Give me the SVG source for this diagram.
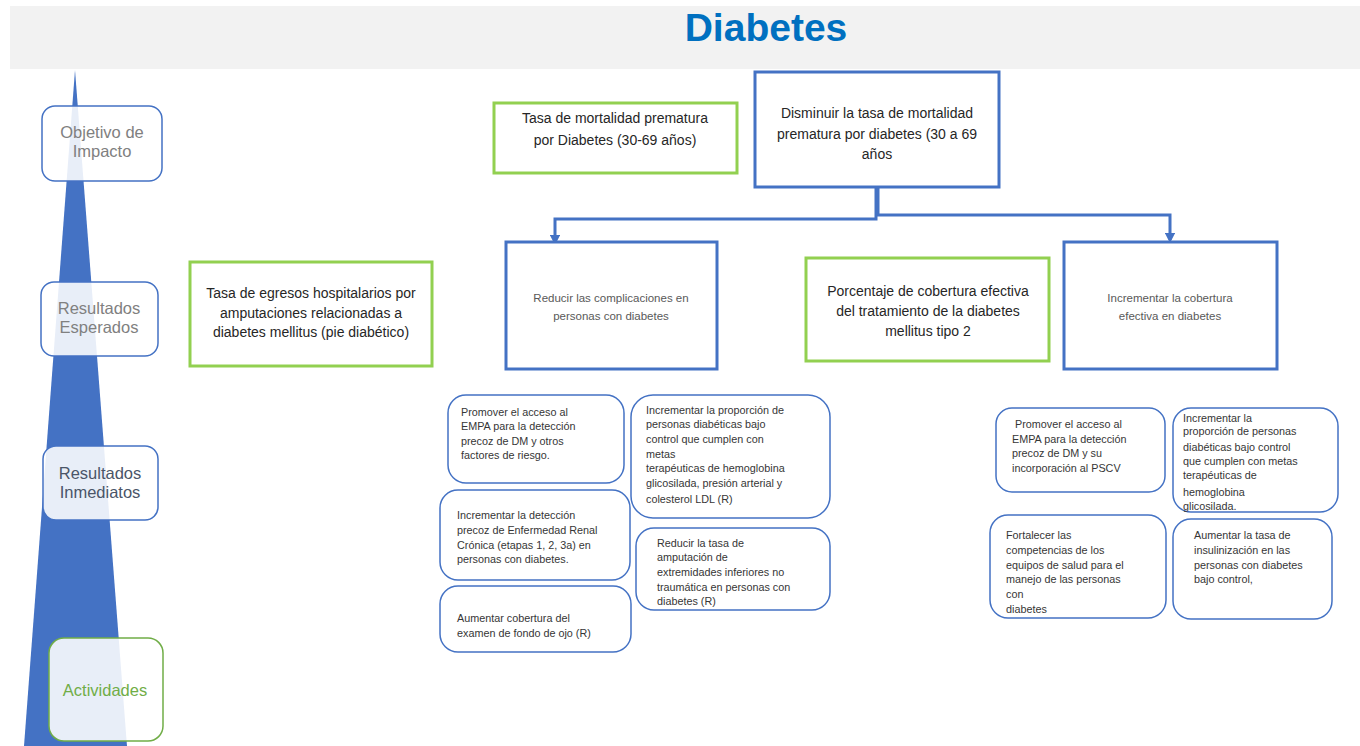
<svg xmlns="http://www.w3.org/2000/svg" width="1360" height="746" viewBox="0 0 1360 746">
<defs>
<marker id="arr" viewBox="0 0 10 10" refX="7" refY="5" markerWidth="3.5" markerHeight="3.5" orient="auto" markerUnits="strokeWidth">
<path d="M0,0 L10,5 L0,10 Z" fill="#4472c4"/>
</marker>
<style>
text{font-family:"Liberation Sans",Arial,sans-serif}
.lab{fill:#fff;fill-opacity:0.88;stroke:#4472c4;stroke-width:1.5}
.labg{fill:#fff;fill-opacity:0.88;stroke:#70ad47;stroke-width:1.5}
.labt{font-size:16.5px;fill:#808080;text-anchor:middle}
.gbox{fill:#fff;stroke:#92d050;stroke-width:3}
.bbox{fill:#fff;stroke:#4472c4;stroke-width:3}
.gt{font-size:14px;fill:#262626;text-anchor:middle}
.bt{font-size:11.5px;fill:#595959;text-anchor:middle}
.act{fill:#fff;stroke:#4472c4;stroke-width:1.5}
.at{font-size:10.8px;fill:#363636}
.conn{fill:none;stroke:#4472c4;stroke-width:3}
</style>
</defs>
<rect x="10" y="6" width="1350" height="63" fill="#f2f2f2"/>
<text x="766" y="41" font-size="39" font-weight="bold" fill="#0070c0" text-anchor="middle">Diabetes</text>
<polygon points="75,70 127,746 24,746" fill="#4472c4"/>

<g id="lbl-objetivo">
<rect class="lab" x="42" y="106" width="120" height="75" rx="13"/>
<text class="labt" x="102" y="138">Objetivo de</text>
<text class="labt" x="102" y="157">Impacto</text>
</g>
<g id="lbl-esperados">
<rect class="lab" x="41" y="282" width="117" height="74" rx="13"/>
<text class="labt" x="99" y="314">Resultados</text>
<text class="labt" x="99" y="333">Esperados</text>
</g>
<g id="lbl-inmediatos">
<rect class="lab" x="43" y="446" width="115" height="74" rx="13"/>
<text class="labt" x="100" y="479" style="fill:#4a5568">Resultados</text>
<text class="labt" x="100" y="498" style="fill:#4a5568">Inmediatos</text>
</g>
<g id="lbl-actividades">
<rect class="labg" x="49" y="638" width="114" height="103" rx="15"/>
<text class="labt" x="105" y="696" style="fill:#70ad47">Actividades</text>
</g>

<g id="connectors">
<polyline class="conn" points="876,188 876,219 555,219 555,242" marker-end="url(#arr)"/>
<polyline class="conn" points="878,188 878,215 1170,215 1170,240" marker-end="url(#arr)"/>
</g>

<g id="ind-mortalidad">
<rect class="gbox" x="494" y="103" width="243" height="70"/>
<text class="gt" x="615" y="123">Tasa de mortalidad prematura</text>
<text class="gt" x="615" y="145">por Diabetes (30-69 años)</text>
</g>
<g id="obj-disminuir">
<rect class="bbox" x="755" y="72" width="244" height="115"/>
<text class="gt" x="877" y="118">Disminuir la tasa de mortalidad</text>
<text class="gt" x="877" y="139">prematura por diabetes (30 a 69</text>
<text class="gt" x="877" y="159">años</text>
</g>
<g id="ind-egresos">
<rect class="gbox" x="190" y="262" width="242" height="104"/>
<text class="gt" x="311" y="298">Tasa de egresos hospitalarios por</text>
<text class="gt" x="311" y="318">amputaciones relacionadas a</text>
<text class="gt" x="311" y="337">diabetes mellitus (pie diabético)</text>
</g>
<g id="res-reducir">
<rect class="bbox" x="506" y="242" width="211" height="127"/>
<text class="bt" x="611" y="302">Reducir las complicaciones en</text>
<text class="bt" x="611" y="320">personas con diabetes</text>
</g>
<g id="ind-porcentaje">
<rect class="gbox" x="806" y="258" width="243" height="103"/>
<text class="gt" x="928" y="296">Porcentaje de cobertura efectiva</text>
<text class="gt" x="928" y="316">del tratamiento de la diabetes</text>
<text class="gt" x="928" y="336">mellitus tipo 2</text>
</g>
<g id="res-incrementar">
<rect class="bbox" x="1064" y="242" width="213" height="127"/>
<text class="bt" x="1170" y="302">Incrementar la cobertura</text>
<text class="bt" x="1170" y="320">efectiva en diabetes</text>
</g>

<g id="act-a1">
<rect class="act" x="448" y="395" width="176" height="88" rx="18"/>
<text class="at" x="461" y="416">Promover el acceso al</text>
<text class="at" x="461" y="430">EMPA para la detección</text>
<text class="at" x="461" y="445">precoz de DM y otros</text>
<text class="at" x="461" y="459">factores de riesgo.</text>
</g>
<g id="act-a2">
<rect class="act" x="440" y="490" width="190" height="90" rx="18"/>
<text class="at" x="457" y="519">Incrementar la detección</text>
<text class="at" x="457" y="534">precoz de Enfermedad Renal</text>
<text class="at" x="457" y="549">Crónica (etapas 1, 2, 3a) en</text>
<text class="at" x="457" y="563">personas con diabetes.</text>
</g>
<g id="act-a3">
<rect class="act" x="440" y="586" width="191" height="66" rx="18"/>
<text class="at" x="457" y="622">Aumentar cobertura del</text>
<text class="at" x="457" y="637">examen de fondo de ojo (R)</text>
</g>
<g id="act-a4">
<rect class="act" x="631" y="395" width="199" height="123" rx="22"/>
<text class="at" x="646" y="414">Incrementar la proporción de</text>
<text class="at" x="646" y="428">personas diabéticas bajo</text>
<text class="at" x="646" y="443">control que cumplen con</text>
<text class="at" x="646" y="458">metas</text>
<text class="at" x="646" y="472">terapéuticas de hemoglobina</text>
<text class="at" x="646" y="487">glicosilada, presión arterial y</text>
<text class="at" x="646" y="503">colesterol LDL (R)</text>
</g>
<g id="act-a5">
<rect class="act" x="636" y="528" width="194" height="82" rx="18"/>
<text class="at" x="657" y="547">Reducir la tasa de</text>
<text class="at" x="657" y="561">amputación de</text>
<text class="at" x="657" y="576">extremidades inferiores no</text>
<text class="at" x="657" y="591">traumática en personas con</text>
<text class="at" x="657" y="605">diabetes (R)</text>
</g>

<g id="act-b1">
<rect class="act" x="996" y="408" width="169" height="84" rx="16"/>
<text class="at" x="1015" y="428">Promover el acceso al</text>
<text class="at" x="1012" y="443">EMPA para la detección</text>
<text class="at" x="1012" y="457">precoz de DM y su</text>
<text class="at" x="1012" y="472">incorporación al PSCV</text>
</g>
<g id="act-b2">
<rect class="act" x="1173" y="408" width="165" height="104" rx="18"/>
<text class="at" x="1183" y="422">Incrementar la</text>
<text class="at" x="1183" y="435">proporción de personas</text>
<text class="at" x="1183" y="451">diabéticas bajo control</text>
<text class="at" x="1183" y="465">que cumplen con metas</text>
<text class="at" x="1183" y="479">terapéuticas de</text>
<text class="at" x="1183" y="496">hemoglobina</text>
<text class="at" x="1183" y="510">glicosilada.</text>
</g>
<g id="act-b3">
<rect class="act" x="990" y="515" width="176" height="103" rx="18"/>
<text class="at" x="1006" y="539">Fortalecer las</text>
<text class="at" x="1006" y="554">competencias de los</text>
<text class="at" x="1006" y="569">equipos de salud para el</text>
<text class="at" x="1006" y="583">manejo de las personas</text>
<text class="at" x="1006" y="598">con</text>
<text class="at" x="1006" y="613">diabetes</text>
</g>
<g id="act-b4">
<rect class="act" x="1173" y="519" width="159" height="100" rx="18"/>
<text class="at" x="1194" y="539">Aumentar la tasa de</text>
<text class="at" x="1194" y="554">insulinización en las</text>
<text class="at" x="1194" y="569">personas con diabetes</text>
<text class="at" x="1194" y="583">bajo control,</text>
</g>
</svg>
